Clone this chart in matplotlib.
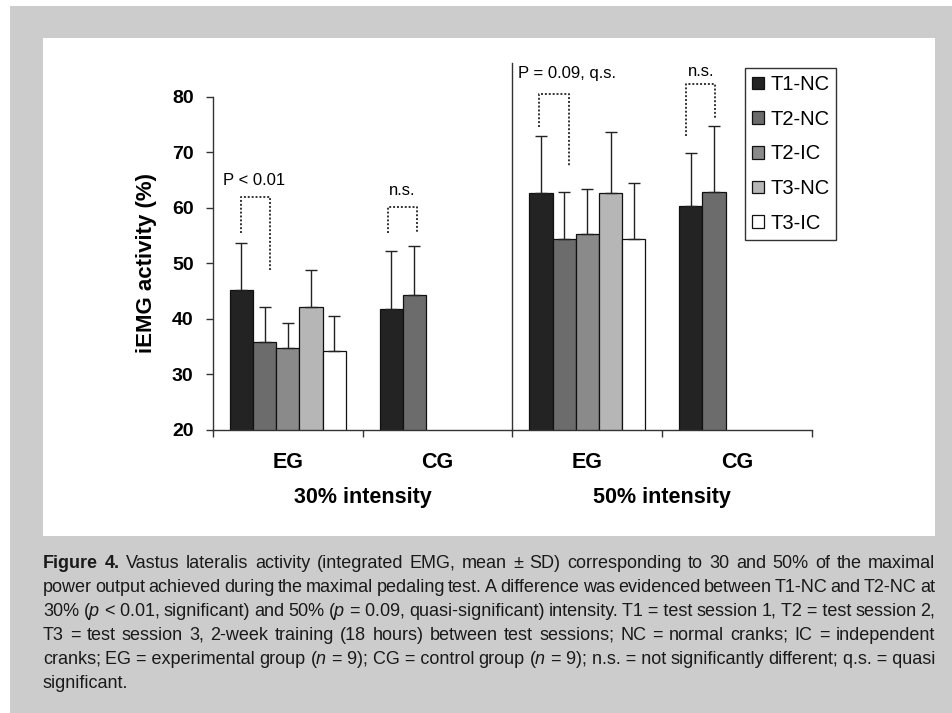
import numpy as np
import matplotlib
matplotlib.use('Agg')
import matplotlib.pyplot as plt
from matplotlib.patches import Rectangle
from matplotlib.transforms import blended_transform_factory

plt.rcParams['font.family'] = ['Liberation Sans', 'DejaVu Sans']
plt.rcParams['mathtext.fontset'] = 'custom'
plt.rcParams['mathtext.it'] = 'Liberation Sans:italic'
plt.rcParams['mathtext.rm'] = 'Liberation Sans'

# data (iEMG activity, % ; mean and upper SD)
groups = ['EG', 'CG', 'EG', 'CG']
intensities = ['30% intensity', '50% intensity']
series = ['T1-NC', 'T2-NC', 'T2-IC', 'T3-NC', 'T3-IC']
colors = ['#232323', '#6c6c6c', '#8a8a8a', '#b6b6b6', '#ffffff']

nan = np.nan
t1_nc = [45.2, 41.7, 62.6, 60.4]
t2_nc = [35.8, 44.3, 54.3, 62.8]
t2_ic = [34.7, nan, 55.3, nan]
t3_nc = [42.1, nan, 62.6, nan]
t3_ic = [34.3, nan, 54.3, nan]

t1_nc_sd = [8.5, 10.5, 10.3, 9.5]
t2_nc_sd = [6.3, 8.8, 8.5, 12.0]
t2_ic_sd = [4.5, nan, 8.1, nan]
t3_nc_sd = [6.7, nan, 11.0, nan]
t3_ic_sd = [6.2, nan, 10.1, nan]

means = [t1_nc, t2_nc, t2_ic, t3_nc, t3_ic]
sds = [t1_nc_sd, t2_nc_sd, t2_ic_sd, t3_nc_sd, t3_ic_sd]

# significance brackets: x left, x right, y left end, y right end, y top, label, label x, label y, align
brackets = [
    (-0.31, -0.12, 55.5, 48.8, 61.9, 'P < 0.01', -0.43, 65.0, 'left'),
    (0.67, 0.86, 55.5, 55.5, 60.2, 'n.s.', 0.765, 63.2, 'center'),
    (1.675, 1.875, 74.6, 67.6, 80.5, 'P = 0.09, q.s.', 1.535, 84.2, 'left'),
    (2.66, 2.85, 72.9, 76.1, 82.2, 'n.s.', 2.758, 84.5, 'center'),
]

caption = [
    '**Figure **4. Vastus lateralis activity (integrated EMG, mean ± SD) corresponding to 30 and 50% of the maximal',
    'power output achieved during the maximal pedaling test. A difference was evidenced between T1-NC and T2-NC at',
    '30% ($\\mathit{p}$\u00a0<\u00a00.01, significant) and 50% ($\\mathit{p}$\u00a0=\u00a00.09, quasi-significant) intensity. '
    'T1\u00a0=\u00a0test session 1, T2\u00a0=\u00a0test session 2,',
    'T3 = test session 3, 2-week training (18 hours) between test sessions; NC = normal cranks; IC = independent',
    'cranks; EG\u00a0=\u00a0experimental group ($\\mathit{n}$\u00a0=\u00a09); CG\u00a0=\u00a0control group '
    '($\\mathit{n}$\u00a0=\u00a09); n.s.\u00a0=\u00a0not significantly different; q.s.\u00a0=\u00a0quasi',
    'significant.',
]

W, H = 953, 713
fig = plt.figure(figsize=(W / 100, H / 100), dpi=100, facecolor='white')


def fx(x):
    return x / W


def fy(y):
    return 1 - y / H


# grey page and white chart panel
fig.add_artist(Rectangle((fx(10), 0), fx(W - 10), fy(6), transform=fig.transFigure,
                         facecolor='#cccccc', edgecolor='none', zorder=-10))
fig.add_artist(Rectangle((fx(43), fy(536)), fx(935 - 43), (536 - 38) / H, transform=fig.transFigure,
                         facecolor='white', edgecolor='none', zorder=-9))

ax = fig.add_axes([fx(213), fy(430), fx(812 - 213), (430 - 96.7) / H])
ax.set_facecolor('none')

x = np.arange(len(groups))
w = 0.155
for i, name in enumerate(series):
    m = np.array(means[i])
    s = np.array(sds[i])
    pos = x + (i - 2) * w
    ok = ~np.isnan(m)
    ax.bar(pos[ok], m[ok], width=w, color=colors[i], edgecolor='#111111', linewidth=0.9, zorder=2)
    ax.errorbar(pos[ok], m[ok], yerr=[np.zeros(ok.sum()), s[ok]], fmt='none', ecolor='#222222',
                elinewidth=1.0, capsize=4.5, capthick=1.0, zorder=3)

ax.set_xlim(-0.5, 3.5)
ax.set_ylim(20, 80)
ax.set_yticks(range(20, 81, 10))
ax.set_xticks([-0.5, 0.5, 1.5, 2.5, 3.5])
ax.set_xticklabels([])
ax.set_xticks(x, minor=True)
ax.set_xticklabels(groups, minor=True, fontsize=15.5, fontweight='bold')
ax.tick_params(axis='x', which='major', direction='out', length=5, width=1, color='#333333')
ax.tick_params(axis='x', which='minor', length=0, pad=16)
ax.tick_params(axis='y', direction='out', length=5, width=1, color='#333333', pad=9)
for lab in ax.get_yticklabels():
    lab.set_fontsize(14)
    lab.set_fontweight('bold')
for side in ['top', 'right']:
    ax.spines[side].set_visible(False)
for side in ['left', 'bottom']:
    ax.spines[side].set_linewidth(1.0)
    ax.spines[side].set_color('#333333')

ax.set_ylabel('iEMG activity (%)', fontsize=16, fontweight='bold')
ax.yaxis.set_label_coords(-0.093, 0.5)

trans = blended_transform_factory(ax.transData, ax.transAxes)
for k, lab in enumerate(intensities):
    ax.text(0.5 + 2 * k, -0.204, lab, transform=trans, ha='center', va='center',
            fontsize=15.5, fontweight='bold')

# separator between intensities
ax.plot([1.5, 1.5], [20, 86.1], color='#333333', lw=1.0, clip_on=False, zorder=1)

for xl, xr, yl, yr, yt, lab, tx, ty, al in brackets:
    ax.plot([xl, xl, xr, xr], [yl, yt, yt, yr], color='#333333', lw=1.4,
            linestyle=(0, (1, 1)), clip_on=False, zorder=4)
    ax.text(tx, ty, lab, ha=al, va='center', fontsize=12, clip_on=False)

handles = [Rectangle((0, 0), 1, 1, facecolor=c, edgecolor='#111111', linewidth=0.9) for c in colors]
leg = ax.legend(handles, series, loc='upper left', bbox_to_anchor=(fx(745), fy(68)),
                bbox_transform=fig.transFigure, borderaxespad=0, fontsize=14.5,
                handlelength=0.6, handleheight=0.6, handletextpad=0.3,
                labelspacing=0.78, borderpad=0.35, fancybox=False, framealpha=1)
leg.get_frame().set_edgecolor('#333333')
leg.get_frame().set_linewidth(1.0)

# justified caption
renderer = fig.canvas.get_renderer()
cap_size = 13.0
x0, x1 = 43, 935


def measure(t):
    return t.get_window_extent(renderer).width


def place_line(words, base, size, justify):
    objs, widths = [], []
    for wd in words:
        bold = wd.startswith('**')
        txt = wd.replace('**', '')
        t = fig.text(0, fy(base), txt, fontsize=size, fontweight='bold' if bold else 'normal',
                     ha='left', va='baseline', color='#1a1a1a')
        objs.append(t)
        widths.append(measure(t))
    return objs, widths


tmp = fig.text(0, 0, 'a a', fontsize=cap_size)
tmp2 = fig.text(0, 0, 'aa', fontsize=cap_size)
space_w = measure(tmp) - measure(tmp2)
tmp.remove()
tmp2.remove()

for k, line in enumerate(caption):
    base = 568 + 24 * k
    words = [wd for wd in line.split(' ') if wd]
    last = k == len(caption) - 1
    size = cap_size
    objs, widths = place_line(words, base, size, not last)
    need = sum(widths) + 0.6 * space_w * (len(words) - 1)
    if not last and need > x1 - x0:
        for t in objs:
            t.remove()
        size = cap_size * (x1 - x0) / need
        objs, widths = place_line(words, base, size, True)
    total = sum(widths)
    if last or len(words) < 2:
        gap = space_w
    else:
        gap = (x1 - x0 - total) / (len(words) - 1)
    xpos = x0
    for t, wd in zip(objs, widths):
        t.set_x(fx(xpos))
        xpos += wd + gap

fig.savefig('out.png', dpi=100, facecolor='white')
